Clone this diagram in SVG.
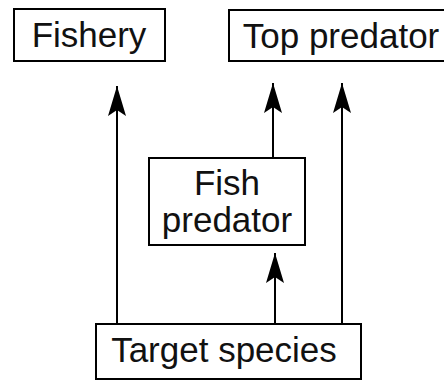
<svg xmlns="http://www.w3.org/2000/svg" width="444" height="381" viewBox="0 0 444 381">
  <style>
    .box { fill: #fff; stroke: #000; stroke-width: 2; }
    .lbl { font-family: "Liberation Sans", Arial, sans-serif; font-size: 35px; fill: #111; text-anchor: middle; }
    .edge { fill: none; stroke: #000; stroke-width: 2; }
  </style>
  <defs>
    <marker id="arrow" viewBox="0 0 30 20" refX="30" refY="10" markerWidth="30" markerHeight="20" markerUnits="userSpaceOnUse" orient="auto">
      <path d="M30,10 L0,1 L6,10 L0,19 Z" fill="#000"/>
    </marker>
  </defs>

  <rect width="444" height="381" fill="#fff"/>

  <g id="connectors">
    <path class="edge" d="M117,324 V86" marker-end="url(#arrow)"/>
    <path class="edge" d="M273,158 V83" marker-end="url(#arrow)"/>
    <path class="edge" d="M342,324 V83" marker-end="url(#arrow)"/>
    <path class="edge" d="M275,324 V253" marker-end="url(#arrow)"/>
  </g>

  <g id="fishery">
    <rect class="box" x="14" y="9" width="151" height="52"/>
    <text class="lbl" x="89" y="47">Fishery</text>
  </g>

  <g id="top-predator">
    <rect class="box" x="229" y="10" width="225" height="51"/>
    <text class="lbl" x="341" y="48">Top predator</text>
  </g>

  <g id="fish-predator">
    <rect class="box" x="149" y="158" width="156" height="87"/>
    <text class="lbl" x="227" y="195">Fish</text>
    <text class="lbl" x="227" y="232">predator</text>
  </g>

  <g id="target-species">
    <rect class="box" x="96" y="324" width="265" height="55"/>
    <text class="lbl" x="224" y="362">Target species</text>
  </g>
</svg>
